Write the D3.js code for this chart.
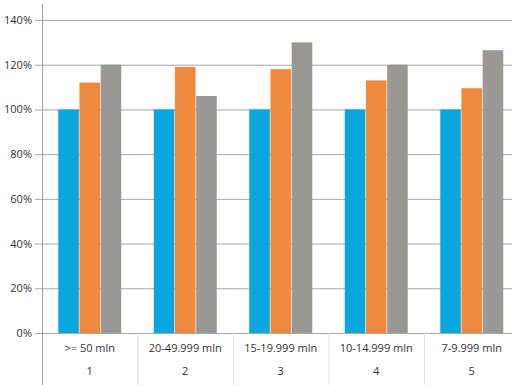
<!DOCTYPE html>
<html>
<head>
<meta charset="utf-8">
<script src="https://cdn.jsdelivr.net/npm/d3@7"></script>
<style>
  body { margin: 0; background: #fff; }
  svg text { font-family: "Open Sans", sans-serif; fill: #333; }
</style>
</head>
<body>
<script>
const w = 512;
const h = 385;

const categories = [">= 50 mln", "20-49.999 mln", "15-19.999 mln", "10-14.999 mln", "7-9.999 mln"];
const groupNumbers = ["1", "2", "3", "4", "5"];
const seriesBlue = [100, 100, 100, 100, 100];
const seriesOrange = [112, 119, 118, 113, 109.5];
const seriesGray = [120, 106, 130, 120, 126.5];
const yTicks = [0, 20, 40, 60, 80, 100, 120, 140];

const colors = ["#0aa6de", "#ef8a3d", "#9a9895"];

const plotLeft = 42;
const plotRight = 519.5;
const plotTop = 20;
const plotBottom = 333;

const svg = d3.select("body").append("svg").attr("width", w).attr("height", h);

const xScale = d3.scaleBand()
  .domain(d3.range(categories.length))
  .range([plotLeft, plotRight]);

const yScale = d3.scaleLinear()
  .domain([0, 140])
  .range([plotBottom, plotTop]);

const barWidth = 21;
const series = [seriesBlue, seriesOrange, seriesGray];

const inner = d3.scaleBand()
  .domain(d3.range(series.length))
  .range([0, barWidth * 3])
  .paddingInner(0.03);

// gridlines
svg.append("g")
  .selectAll("line")
  .data(yTicks)
  .enter()
  .append("line")
  .attr("x1", plotLeft - 7)
  .attr("x2", w)
  .attr("y1", d => yScale(d) + 0.5)
  .attr("y2", d => yScale(d) + 0.5)
  .attr("stroke", "#a8a8a8")
  .attr("stroke-width", 1);

// bars
series.forEach(function (values, s) {
  svg.append("g")
    .selectAll("rect")
    .data(values)
    .enter()
    .append("rect")
    .attr("x", (d, i) => xScale(i) + (xScale.bandwidth() - barWidth * 3) / 2 + inner(s))
    .attr("y", d => yScale(d))
    .attr("width", inner.bandwidth())
    .attr("height", d => plotBottom - yScale(d))
    .attr("fill", colors[s]);
});

// category separators
svg.append("g")
  .selectAll("line")
  .data(d3.range(1, categories.length))
  .enter()
  .append("line")
  .attr("x1", d => xScale(d) + 0.5)
  .attr("x2", d => xScale(d) + 0.5)
  .attr("y1", plotBottom)
  .attr("y2", h)
  .attr("stroke", "#e0e0e0");

// y axis
const yAxis = d3.axisLeft(yScale)
  .tickValues(yTicks)
  .tickSize(0)
  .tickPadding(10)
  .tickFormat(d => d + "%");

const yg = svg.append("g")
  .attr("transform", "translate(" + plotLeft + ",0)")
  .call(yAxis);
yg.select(".domain").remove();
yg.selectAll("text").style("font-size", "11px").attr("fill", "#333");

svg.append("line")
  .attr("x1", plotLeft + 0.5)
  .attr("x2", plotLeft + 0.5)
  .attr("y1", 4)
  .attr("y2", h)
  .attr("stroke", "#a0a0a0");

// category labels
svg.append("g")
  .selectAll("text")
  .data(categories)
  .enter()
  .append("text")
  .attr("x", (d, i) => xScale(i) + xScale.bandwidth() / 2)
  .attr("y", 352)
  .attr("text-anchor", "middle")
  .style("font-size", "11px")
  .text(d => d);

svg.append("g")
  .selectAll("text")
  .data(groupNumbers)
  .enter()
  .append("text")
  .attr("x", (d, i) => xScale(i) + xScale.bandwidth() / 2)
  .attr("y", 375)
  .attr("text-anchor", "middle")
  .style("font-size", "11px")
  .text(d => d);
</script>
</body>
</html>
